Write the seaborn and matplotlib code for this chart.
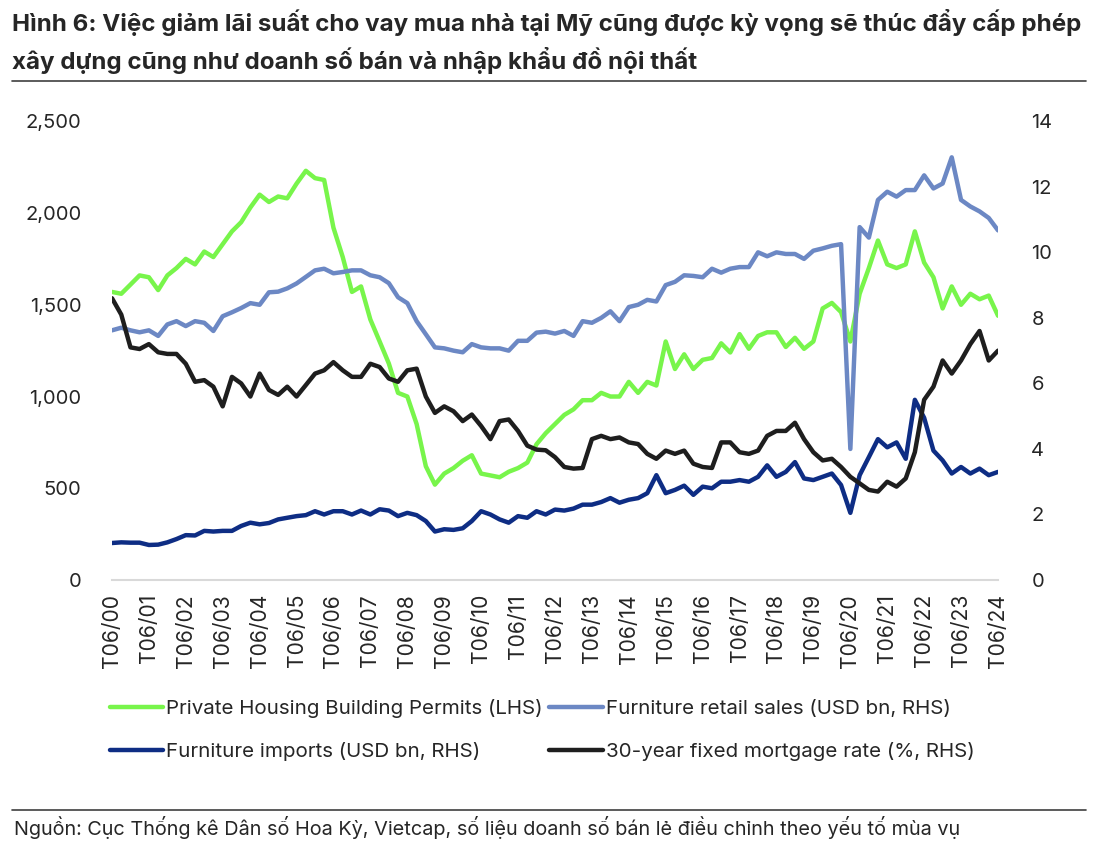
import pandas as pd
import seaborn as sns
import matplotlib.pyplot as plt
import matplotlib.dates as mdates
from matplotlib.ticker import FuncFormatter

# quarterly readings, Jun 2000 -> Jun 2024
permits = [1570, 1560, 1610, 1660, 1650, 1580, 1660, 1700, 1750, 1720, 1790, 1760,
           1830, 1900, 1950, 2030, 2100, 2060, 2090, 2080, 2160, 2230, 2190, 2180,
           1920, 1760, 1570, 1600, 1420, 1300, 1180, 1020, 1000, 850, 620, 520,
           580, 610, 650, 680, 580, 570, 560, 590, 610, 640, 740, 800,
           850, 900, 930, 980, 980, 1020, 1000, 1000, 1080, 1020, 1080, 1060,
           1300, 1150, 1230, 1150, 1200, 1210, 1290, 1240, 1340, 1260, 1330, 1350,
           1350, 1270, 1320, 1260, 1300, 1480, 1510, 1460, 1300, 1560, 1700, 1850,
           1720, 1700, 1720, 1900, 1730, 1650, 1480, 1600, 1500, 1560, 1530, 1550,
           1440]
retail = [7.62, 7.70, 7.62, 7.56, 7.62, 7.45, 7.80, 7.90, 7.75, 7.90, 7.85, 7.60,
          8.05, 8.17, 8.30, 8.45, 8.40, 8.78, 8.80, 8.90, 9.05, 9.25, 9.45, 9.50,
          9.36, 9.40, 9.45, 9.45, 9.30, 9.24, 9.06, 8.63, 8.45, 7.90, 7.50, 7.10,
          7.07, 7.00, 6.95, 7.20, 7.10, 7.07, 7.07, 7.00, 7.30, 7.30, 7.55, 7.58,
          7.52, 7.60, 7.45, 7.90, 7.85, 8.00, 8.20, 7.90, 8.33, 8.40, 8.55, 8.50,
          9.00, 9.10, 9.30, 9.28, 9.24, 9.50, 9.38, 9.50, 9.55, 9.55, 10.0, 9.88,
          10.0, 9.95, 9.95, 9.80, 10.05, 10.12, 10.20, 10.25, 4.0, 10.77, 10.45, 11.6,
          11.85, 11.7, 11.9, 11.9, 12.35, 11.95, 12.1, 12.9, 11.6, 11.4, 11.25, 11.05,
          10.67]
imports = [1.13, 1.15, 1.14, 1.14, 1.07, 1.08, 1.15, 1.25, 1.37, 1.36, 1.50, 1.48,
           1.50, 1.50, 1.65, 1.75, 1.70, 1.74, 1.85, 1.90, 1.95, 1.98, 2.10, 2.00,
           2.10, 2.10, 2.00, 2.12, 2.00, 2.16, 2.12, 1.95, 2.05, 1.98, 1.80, 1.48,
           1.55, 1.53, 1.58, 1.80, 2.10, 2.00, 1.85, 1.75, 1.95, 1.90, 2.10, 2.00,
           2.15, 2.12, 2.18, 2.30, 2.30, 2.38, 2.50, 2.36, 2.45, 2.50, 2.65, 3.20,
           2.65, 2.75, 2.88, 2.60, 2.85, 2.80, 3.00, 3.00, 3.05, 3.00, 3.15, 3.50,
           3.15, 3.30, 3.60, 3.10, 3.05, 3.15, 3.25, 2.90, 2.05, 3.20, 3.75, 4.30,
           4.05, 4.20, 3.70, 5.50, 4.95, 3.95, 3.65, 3.25, 3.45, 3.25, 3.40, 3.20,
           3.30]
mortgage = [8.6, 8.1, 7.1, 7.05, 7.2, 6.95, 6.9, 6.9, 6.6, 6.05, 6.1, 5.9,
            5.3, 6.2, 6.0, 5.6, 6.3, 5.8, 5.65, 5.9, 5.6, 5.95, 6.3, 6.4,
            6.65, 6.4, 6.2, 6.2, 6.6, 6.5, 6.15, 6.05, 6.4, 6.45, 5.6, 5.1,
            5.3, 5.15, 4.85, 5.05, 4.7, 4.3, 4.85, 4.9, 4.55, 4.1, 3.98, 3.96,
            3.75, 3.45, 3.4, 3.42, 4.3, 4.4, 4.3, 4.35, 4.2, 4.15, 3.85, 3.7,
            3.95, 3.85, 3.95, 3.55, 3.45, 3.42, 4.2, 4.2, 3.9, 3.85, 3.95, 4.4,
            4.55, 4.55, 4.8, 4.3, 3.9, 3.65, 3.7, 3.45, 3.15, 2.95, 2.75, 2.7,
            3.0, 2.85, 3.1, 3.9, 5.5, 5.9, 6.7, 6.3, 6.7, 7.2, 7.6, 6.7,
            7.0]

dates = pd.date_range("2000-06-01", periods=len(permits), freq="3MS")
df = pd.DataFrame({"date": dates, "permits": permits, "retail": retail,
                   "imports": imports, "mortgage": mortgage})

sns.set_style("white")
plt.rcParams['font.family'] = ['Inter', 'DejaVu Sans']

fig = plt.figure(figsize=(11, 8.48), dpi=100)
ax = fig.add_axes([0.1018, 0.316, 0.8055, 0.541])
ax2 = ax.twinx()

lw = 3.2
sns.lineplot(data=df, x="date", y="permits", ax=ax, color="#78F54B", linewidth=lw,
             label="Private Housing Building Permits (LHS)", legend=False)
sns.lineplot(data=df, x="date", y="retail", ax=ax2, color="#6C88C4", linewidth=lw,
             label="Furniture retail sales (USD bn, RHS)", legend=False)
sns.lineplot(data=df, x="date", y="imports", ax=ax2, color="#0E2D84", linewidth=lw,
             label="Furniture imports (USD bn, RHS)", legend=False)
sns.lineplot(data=df, x="date", y="mortgage", ax=ax2, color="#1E1E1E", linewidth=lw,
             label="30-year fixed mortgage rate (%, RHS)", legend=False)

ax.set_xlim(dates[0], dates[-1])
ax.set_ylim(0, 2500)
ax2.set_ylim(0, 14)
ax.set_yticks(range(0, 2501, 500))
ax2.set_yticks(range(0, 15, 2))
ax.yaxis.set_major_formatter(FuncFormatter(lambda v, p: f"{int(v):,}"))

year_ticks = pd.date_range("2000-06-01", "2024-06-01", freq="12MS")
ax.set_xticks(year_ticks)
ax.xaxis.set_major_formatter(mdates.DateFormatter("T06/%y"))
plt.setp(ax.get_xticklabels(), rotation=90)

for a in (ax, ax2):
    for s in a.spines.values():
        s.set_visible(False)
    a.set_xlabel("")
    a.set_ylabel("")
ax.spines["bottom"].set_visible(True)
ax.spines["bottom"].set_color("#D9D9D9")
ax.spines["bottom"].set_linewidth(1.5)
ax.tick_params(axis="x", length=7, width=1.5, color="#D9D9D9", labelsize=15.2, pad=3)
ax.tick_params(axis="y", length=0, labelsize=14.5, pad=22)
ax2.tick_params(axis="y", length=0, labelsize=14.5, pad=24)

h1, l1 = ax.get_legend_handles_labels()
h2, l2 = ax2.get_legend_handles_labels()
handles = [h1[0], h2[1], h2[0], h2[2]]
labels = [l1[0], l2[1], l2[0], l2[2]]
fig.legend(handles, labels, ncol=2, loc="upper left", bbox_to_anchor=(0.083, 0.197),
           frameon=False, fontsize=14.8, handlelength=2.6, handletextpad=0.15,
           columnspacing=0.3, labelspacing=1.15)

fig.text(0.011, 0.974, "Hình 6: Việc giảm lãi suất cho vay mua nhà tại Mỹ cũng được kỳ vọng sẽ thúc đẩy cấp phép",
         fontsize=17.4, fontweight="bold", va="center", ha="left")
fig.text(0.011, 0.929, "xây dựng cũng như doanh số bán và nhập khẩu đồ nội thất",
         fontsize=17.4, fontweight="bold", va="center", ha="left")
fig.add_artist(plt.Line2D([0.011, 0.987], [0.905, 0.905], color="#404040", linewidth=1.2))
fig.add_artist(plt.Line2D([0.011, 0.987], [0.045, 0.045], color="#404040", linewidth=1.2))
fig.text(0.013, 0.024, "Nguồn: Cục Thống kê Dân số Hoa Kỳ, Vietcap, số liệu doanh số bán lẻ điều chỉnh theo yếu tố mùa vụ",
         fontsize=14.3, va="center", ha="left")

fig.savefig("out.png", dpi=100)
